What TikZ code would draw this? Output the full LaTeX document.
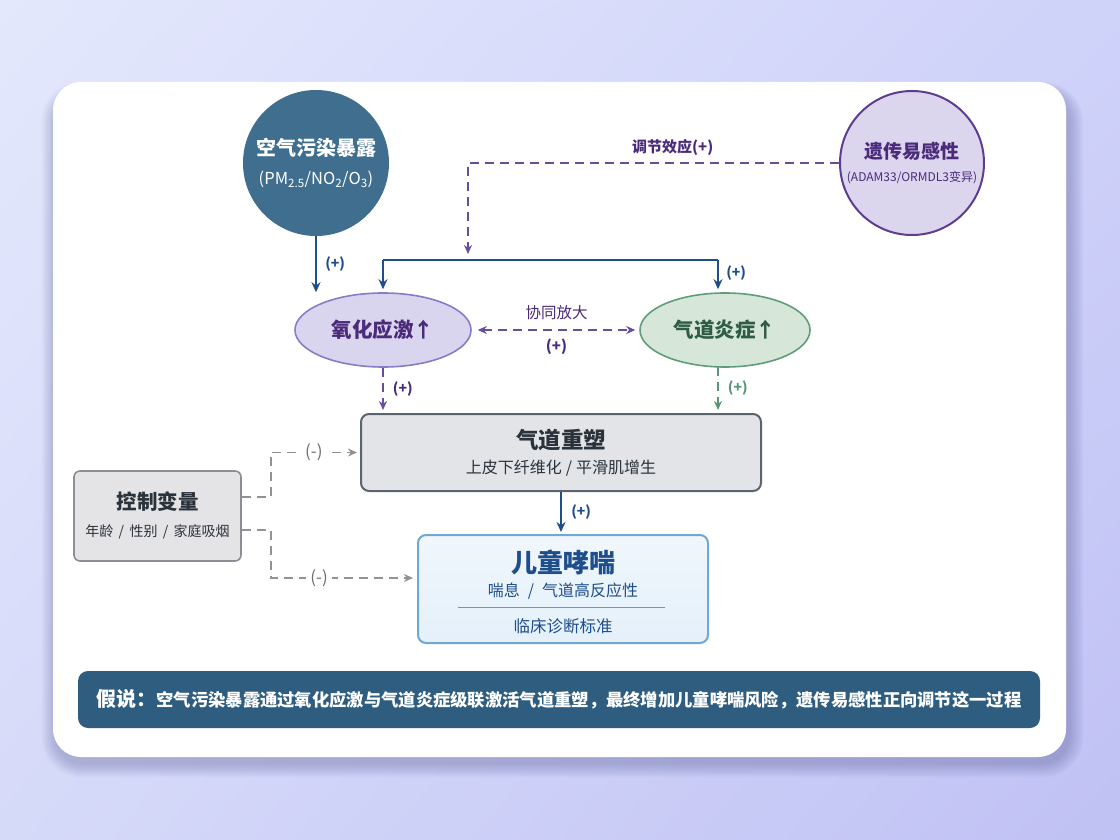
\documentclass[tikz,border=0pt]{standalone}
\usepackage{fontspec}
\setmainfont{Noto Sans CJK SC}
\usetikzlibrary{shapes.geometric,arrows.meta,calc,shadings}
\definecolor{bgTL}{HTML}{E4E8FC}
\definecolor{bgTR}{HTML}{CFD2F9}
\definecolor{bgBL}{HTML}{D6DAF9}
\definecolor{bgBR}{HTML}{C0C1F4}
\definecolor{shadowc}{HTML}{3A3F7A}
\definecolor{airblue}{HTML}{3F6E8F}
\definecolor{navy}{HTML}{1F4E8A}
\definecolor{pdark}{HTML}{4B2A7B}
\definecolor{pline}{HTML}{6A4C9C}
\definecolor{genfill}{HTML}{DCD5EE}
\definecolor{genbord}{HTML}{5E3C8F}
\definecolor{oxfill}{HTML}{DAD5EE}
\definecolor{oxbord}{HTML}{8B7BC6}
\definecolor{infill}{HTML}{D6E7DA}
\definecolor{inbord}{HTML}{5F9C7A}
\definecolor{intext}{HTML}{2E5C44}
\definecolor{garrow}{HTML}{5A9577}
\definecolor{remfill}{HTML}{E2E4E7}
\definecolor{rembord}{HTML}{5B6570}
\definecolor{remtext}{HTML}{2A323B}
\definecolor{whfill}{HTML}{E4F0FA}
\definecolor{whbord}{HTML}{6FA9D3}
\definecolor{whtext}{HTML}{1E4E8C}
\definecolor{whline}{HTML}{5A9BD0}
\definecolor{ctfill}{HTML}{E4E4E6}
\definecolor{ctbord}{HTML}{8B8F95}
\definecolor{gdash}{HTML}{8F9398}
\definecolor{gtext}{HTML}{6A6E74}
\definecolor{banner}{HTML}{2F5D80}
\newcommand{\fs}[1]{\fontsize{#1}{#1}\selectfont}
\newcommand{\sep}{\hspace{0.5em}/\hspace{0.5em}}
\newcommand{\sepn}{\hspace{0.38em}/\hspace{0.38em}}
\tikzset{
  bluearrow/.style={draw=navy, line width=2.6pt, -{Stealth[length=10pt,width=9pt]}},
  blueline/.style={draw=navy, line width=2.6pt},
  pdash/.style={draw=pline, line width=1.8pt, dash pattern=on 9pt off 6pt},
  pdarrow/.style={pdash, -{Stealth[length=9pt,width=8pt]}},
  gdarrow/.style={draw=garrow, line width=1.8pt, dash pattern=on 9pt off 6pt, -{Stealth[length=9pt,width=8pt]}},
  greydash/.style={draw=gdash, line width=1.6pt, dash pattern=on 9pt off 6pt, -{Stealth[length=9pt,width=8pt]}},
  lab/.style={font=\fs{14}\bfseries, inner sep=1pt},
}
\begin{document}
\begin{tikzpicture}[x=1pt,y=-1pt]
\useasboundingbox (0,0) rectangle (1120,840);
\shade[upper left=bgTL, upper right=bgTR, lower left=bgBL, lower right=bgBR] (0,0) rectangle (1120,840);
% card shadow
\foreach \i in {1,...,12}{
  \fill[shadowc, opacity=0.022, rounded corners=28pt+\i pt] (53+3-\i*1.2,82+12-\i*1.0) rectangle (1066+3+\i*1.2,757+6+\i*1.2);
}
% card
\fill[white, rounded corners=28pt] (53,82) rectangle (1066,757);

% nodes
\node[circle, fill=airblue, minimum size=146pt, inner sep=0pt, align=center, text=white] (air) at (316,163)
  {{\fs{20}\bfseries 空气污染暴露}\\[13pt]{\fs{16.5}(PM\textsubscript{2.5}/NO\textsubscript{2}/O\textsubscript{3})}};
\node[circle, fill=genfill, draw=genbord, line width=2pt, minimum size=144pt, inner sep=0pt, align=center] (gen) at (912,163)
  {{\fs{19}\bfseries\color{pdark} 遗传易感性}\\[10pt]{\fs{12}\color{pdark}(ADAM33/ORMDL3变异)}};
\node[ellipse, fill=oxfill, draw=oxbord, line width=1.6pt, minimum width=176pt, minimum height=74pt, inner sep=0pt, text=pdark, font=\fs{20.5}\bfseries] (ox) at (383,330) {氧化应激↑};
\node[ellipse, fill=infill, draw=inbord, line width=1.6pt, minimum width=170pt, minimum height=74pt, inner sep=0pt, text=intext, font=\fs{20.5}\bfseries] (inf) at (725,330) {气道炎症↑};
\node[rectangle, rounded corners=8pt, fill=remfill, draw=rembord, line width=2pt, minimum width=400pt, minimum height=77pt, inner sep=0pt] (rem) at (561,452.5) {};
\node[text=remtext, font=\fs{22.5}\bfseries] (remT) at (561,440) {气道重塑};
\node[text=remtext, font=\fs{16}] (remS) at (561,468) {上皮下纤维化{\hspace{0.25em}/\hspace{0.25em}}平滑肌增生};
\node[rectangle, rounded corners=8pt, top color=whfill!55!white, bottom color=whfill, draw=whbord, line width=2pt, minimum width=290pt, minimum height=108pt, inner sep=0pt] (wh) at (563,589) {};
\node[text=whtext, font=\fs{26}\bfseries] (whT) at (563,562) {儿童哮喘};
\node[text=whtext, font=\fs{16}] (whS) at (563,591) {喘息{\sep}气道高反应性};
\coordinate (rl) at (458,607);
\coordinate (rr) at (665,607);
\draw[whline, line width=1pt] (rl) -- (rr);
\node[text=whtext, font=\fs{16.5}] (whC) at (563,626) {临床诊断标准};
\node[rectangle, rounded corners=6pt, fill=ctfill, draw=ctbord, line width=1.6pt, minimum width=167pt, minimum height=90pt, inner sep=0pt] (ct) at (157.5,516) {};
\node[text=remtext, font=\fs{20.5}\bfseries] (ctT) at (157.5,502) {控制变量};
\node[text=remtext, font=\fs{14}] (ctS) at (157.5,532) {年龄{\sepn}性别{\sepn}家庭吸烟};
\node[rectangle, rounded corners=10pt, fill=banner, minimum width=962pt, minimum height=57pt, inner sep=0pt, text=white] (ban) at (559,699.5)
  {{\fs{20}\bfseries 假说：}{\fs{17.3}\bfseries 空气污染暴露通过氧化应激与气道炎症级联激活气道重塑，最终增加儿童哮喘风险，遗传易感性正向调节这一过程}};

% connectors
\draw[bluearrow] (air.south) -- (air.south |- ox.north) node[midway, right=7pt, lab, text=navy] {(+)};
\coordinate (bl) at (383,260);
\coordinate (br) at (718,260);
\draw[blueline] (bl) -- (br);
\draw[bluearrow] (bl) -- ([yshift=3pt]bl |- ox.north);
\draw[bluearrow] (br) -- ([yshift=3pt]br |- inf.north) node[pos=0.45, right=6pt, lab, text=navy] {(+)};
\coordinate (mod) at (468,254);
\draw[pdarrow] (gen.west) -| (mod) node[pos=0.224, above=6pt, lab, font=\fs{15}\bfseries, text=pdark] {调节效应(+)};
\draw[pdash, {Stealth[length=9pt,width=8pt]}-{Stealth[length=9pt,width=8pt]}] ([xshift=6pt]ox.east) -- ([xshift=-4pt]inf.west)
  node[midway, above=8pt, lab, font=\fs{15.5}, text=pdark] {协同放大}
  node[midway, below=7pt, lab, font=\fs{15}\bfseries, text=pdark] {(+)};
\coordinate (g1) at (718,367);
\draw[pdarrow] (ox.south) -- ([yshift=3pt]ox.south |- rem.north) node[midway, right=8pt, lab, text=pdark] {(+)};
\draw[gdarrow] (g1) -- ([yshift=3pt]g1 |- rem.north) node[midway, right=8pt, lab, text=garrow] {(+)};
\draw[bluearrow] (rem.south) -- ([yshift=2pt]rem.south |- wh.north) node[midway, right=8pt, lab, text=navy] {(+)};
\draw[greydash] ([yshift=19pt]ct.east) -- ++(29,0) |- ([xshift=-3pt]rem.west) node[pos=0.75, fill=white, inner sep=4pt, font=\fs{17}, text=gtext] {(-)};
\draw[greydash] ([yshift=-14pt]ct.east) -- ++(29,0) |- ([xshift=-4pt,yshift=11pt]wh.west) node[pos=0.67, fill=white, inner sep=4pt, font=\fs{17}, text=gtext] {(-)};
\end{tikzpicture}
\end{document}
